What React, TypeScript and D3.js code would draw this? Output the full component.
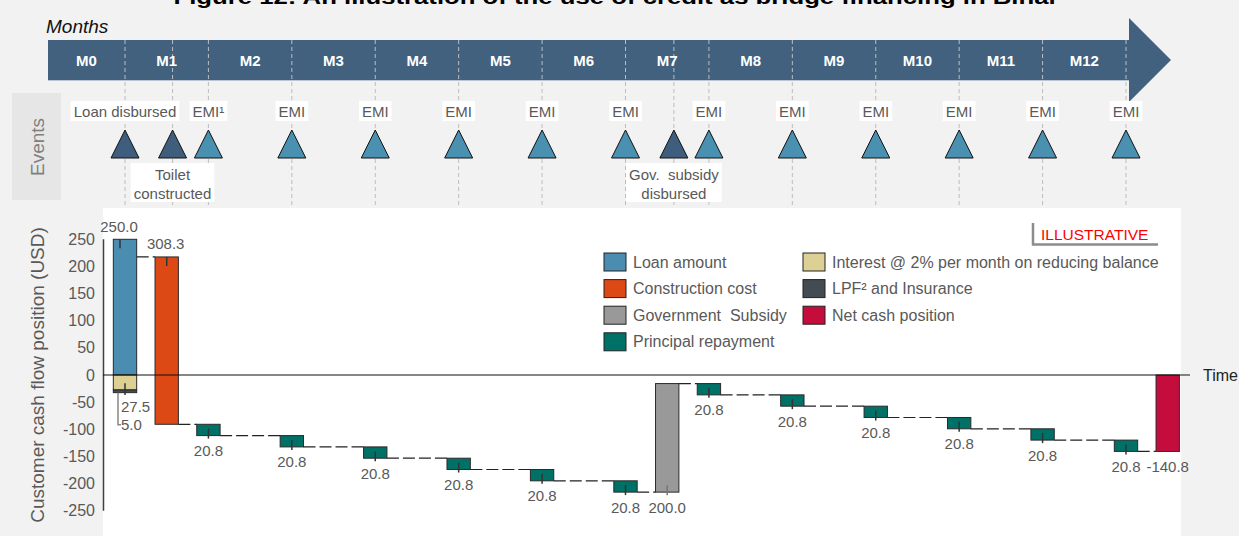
import * as d3 from "d3";

// ---- data ----
const title = "Figure 12: An illustration of the use of credit as bridge financing in Bihar";
const months = ["M0", "M1", "M2", "M3", "M4", "M5", "M6", "M7", "M8", "M9", "M10", "M11", "M12"];

const eventNames = [
  "Loan disbursed", "Toilet constructed", "EMI¹", "EMI", "EMI", "EMI", "EMI", "EMI",
  "Gov. subsidy disbursed", "EMI", "EMI", "EMI", "EMI", "EMI", "EMI",
];
const eventMonths = [0.5, 1.07, 1.5, 2.5, 3.5, 4.5, 5.5, 6.5, 7.08, 7.5, 8.5, 9.5, 10.5, 11.5, 12.5];
const eventKinds = [
  "milestone", "milestone", "emi", "emi", "emi", "emi", "emi", "emi",
  "milestone", "emi", "emi", "emi", "emi", "emi", "emi",
];
const eventLabelLines: Record<string, string[]> = {
  "Toilet constructed": ["Toilet", "constructed"],
  "Gov. subsidy disbursed": ["Gov.  subsidy", "disbursed"],
};

const stepTypes = [
  "loan", "interest", "lpf", "construction",
  "principal", "principal", "principal", "principal", "principal", "principal",
  "subsidy",
  "principal", "principal", "principal", "principal", "principal", "principal",
  "net",
];
const stepMonths = [0.5, 0.5, 0.5, 1.0, 1.5, 2.5, 3.5, 4.5, 5.5, 6.5, 7.0, 7.5, 8.5, 9.5, 10.5, 11.5, 12.5, 13.0];
const stepValues = [
  250.0, -27.5, -5.0, -308.3,
  -20.83, -20.83, -20.83, -20.83, -20.83, -20.83,
  200.0,
  -20.83, -20.83, -20.83, -20.83, -20.83, -20.83,
  -140.8,
];
const yTicks = [250, 200, 150, 100, 50, 0, -50, -100, -150, -200, -250];

const legendCol1 = ["loan", "construction", "subsidy", "principal"];
const legendCol2 = ["interest", "lpf", "net"];
const legendNames: Record<string, string> = {
  loan: "Loan amount",
  construction: "Construction cost",
  subsidy: "Government  Subsidy",
  principal: "Principal repayment",
  interest: "Interest @ 2% per month on reducing balance",
  lpf: "LPF² and Insurance",
  net: "Net cash position",
};
const colors: Record<string, string> = {
  loan: "#4a8db0",
  construction: "#dc4914",
  subsidy: "#999999",
  principal: "#007166",
  interest: "#dcd095",
  lpf: "#434c52",
  net: "#c40d3c",
};

const FONT = "'Liberation Sans', Arial, sans-serif";
const GREY = "#595959";

let ctx: CanvasRenderingContext2D | null = null;
function textWidth(t: string, size: number) {
  if (!ctx) ctx = document.createElement("canvas").getContext("2d");
  if (!ctx) return t.length * size * 0.5;
  ctx.font = `${size}px ${FONT}`;
  return ctx.measureText(t).width;
}

// d3.format uses a unicode minus; the chart uses a plain hyphen
const fmt1 = d3.format(".1f");
const fmt = (v: number) => fmt1(v).replace("\u2212", "-");

export default function App() {
  const W = 1239;
  const H = 536;

  const x = d3.scaleLinear().domain([0.5, 12.5]).range([125, 1126]);
  const y = d3.scaleLinear().domain([-250, 250]).range([510.7, 239.3]);
  const step = x(1) - x(0);
  const bw = step * 0.28;

  const arrowLeft = 48;
  const arrowRight = x(12.5) + 3;
  const arrowTop = 40;
  const arrowBottom = 80;

  // waterfall geometry
  let run = 0;
  let negStack = 0;
  const bars = stepTypes.map((t, i) => {
    const v = stepValues[i];
    let a: number, b: number;
    if (t === "interest" || t === "lpf") {
      a = negStack;
      b = negStack + v;
      negStack = b;
      run += v;
    } else if (t === "net") {
      a = 0;
      b = v;
    } else {
      a = run;
      b = run + v;
      run = b;
    }
    return { type: t, month: stepMonths[i], from: a, to: b, value: v, after: run };
  });

  const columns = d3.groups(bars, (d) => d.month);
  const connectors = columns.slice(1).map(([m, _], i) => {
    const prev = columns[i];
    const last = prev[1][prev[1].length - 1];
    return { x1: x(prev[0]) + bw / 2, x2: x(m) - bw / 2, level: last.after };
  });

  return (
    <svg
      width={W}
      height={H}
      style={{ position: "absolute", left: 0, top: 0, background: "#f2f2f2", fontFamily: FONT }}
    >
      <rect x={0} y={0} width={W} height={H} fill="#f2f2f2" />

      {/* title (clipped at top, as in the source page) */}
      <text x={616} y={4} textAnchor="middle" fontSize={21} fontWeight="bold" fill="#000"
        textLength={885} lengthAdjust="spacingAndGlyphs">
        {title}
      </text>

      <text x={46} y={33} fontSize={19} fontStyle="italic" fill="#111">Months</text>

      {/* arrow */}
      <path
        d={`M${arrowLeft},${arrowTop} H${arrowRight} V18 L1171,60 L${arrowRight},102 V${arrowBottom} H${arrowLeft} Z`}
        fill="#41617e"
      />
      <line x1={arrowLeft} x2={arrowRight} y1={arrowBottom + 0.5} y2={arrowBottom + 0.5} stroke="#b9c5d0" />

      {/* events panel */}
      <rect x={12} y={93} width={49} height={107} fill="#e6e6e6" />
      <text transform="translate(37,147) rotate(-90)" textAnchor="middle" dominantBaseline="central"
        fontSize={19} fill="#7f7f7f">Events</text>

      {/* dashed guide lines */}
      {eventMonths.map((m, i) => (
        <line key={"g" + i} x1={x(m)} x2={x(m)} y1={arrowTop} y2={208}
          stroke="#bdbdbd" strokeDasharray="4,3" />
      ))}

      {months.map((m, i) => {
        const a = Math.max(arrowLeft, x(i - 0.5));
        const b = x(i + 0.5);
        return (
          <text key={m} x={(a + b) / 2} y={60} textAnchor="middle" dominantBaseline="central"
            fontSize={15} fontWeight="bold" fill="#fff">{m}</text>
        );
      })}

      {/* events */}
      {eventNames.map((name, i) => {
        const cx = x(eventMonths[i]);
        const kind = eventKinds[i];
        const lines = eventLabelLines[name] || [name];
        const below = lines.length > 1;
        const wMax = d3.max(lines, (l) => textWidth(l, 15)) || 0;
        const boxW = wMax + 6;
        const boxY = below ? 163 : 101;
        const boxH = below ? 39 : 20;
        return (
          <g key={"e" + i}>
            <rect x={cx - boxW / 2} y={boxY} width={boxW} height={boxH} fill="#fff" />
            {lines.map((l, j) => (
              <text key={j} x={cx} y={below ? 174 + j * 19 : 111} textAnchor="middle"
                dominantBaseline="central" fontSize={15} fill={GREY} style={{ whiteSpace: "pre" }}>{l}</text>
            ))}
            <path d={`M${cx},130 L${cx + 14},158 L${cx - 14},158 Z`}
              fill={kind === "milestone" ? "#3f5e7d" : "#4a90b0"} stroke="#111" strokeWidth={1} />
          </g>
        );
      })}

      {/* chart panel */}
      <rect x={103} y={208} width={1078} height={H - 208} fill="#fff" />

      {/* y axis */}
      <line x1={103.5} x2={103.5} y1={y(250)} y2={y(-250)} stroke="#404040" strokeWidth={1.5} />
      {yTicks.map((t) => (
        <text key={t} x={95} y={y(t)} textAnchor="end" dominantBaseline="central" fontSize={16} fill={GREY}>{t}</text>
      ))}
      <text transform="translate(37,375) rotate(-90)" textAnchor="middle" dominantBaseline="central"
        fontSize={19} fill={GREY}>Customer cash flow position (USD)</text>

      {/* connectors */}
      {connectors.map((c, i) => (
        <line key={"c" + i} x1={c.x1} x2={c.x2} y1={y(c.level)} y2={y(c.level)}
          stroke="#222" strokeWidth={1.2} strokeDasharray="12,4" />
      ))}

      {/* bars */}
      {bars.map((b, i) => {
        const cx = x(b.month);
        const top = y(Math.max(b.from, b.to));
        const bot = y(Math.min(b.from, b.to));
        return (
          <rect key={"b" + i} x={cx - bw / 2} y={top} width={bw} height={Math.max(1, bot - top)}
            fill={colors[b.type]} stroke="#2a2a2a" strokeWidth={1} />
        );
      })}

      {/* zero line */}
      <line x1={103} x2={1190} y1={y(0)} y2={y(0)} stroke="#111" strokeWidth={1.2} />
      <text x={1203} y={y(0)} dominantBaseline="central" fontSize={16} fill="#222">Time</text>

      {/* value labels */}
      {bars.map((b, i) => {
        const cx = x(b.month);
        const top = y(Math.max(b.from, b.to));
        const bot = y(Math.min(b.from, b.to));
        const tickColor = b.type === "subsidy" ? "#777" : "#333";
        if (b.type === "loan" || b.type === "construction") {
          const dx = b.type === "loan" ? -5 : 0;
          return (
            <g key={"l" + i}>
              <line x1={cx + dx} x2={cx + dx} y1={top} y2={top + 9} stroke={tickColor} strokeWidth={1.5} />
              <text x={cx + dx - 1} y={top - 13} textAnchor="middle" dominantBaseline="central" fontSize={15}
                fill={GREY}>{fmt(Math.abs(b.value))}</text>
            </g>
          );
        }
        if (b.type === "interest") {
          return (
            <g key={"l" + i}>
              <line x1={cx} x2={cx} y1={y(-15)} y2={bot + 5} stroke="#333" strokeWidth={1.5} />
              <text x={cx - 4} y={bot + 17} dominantBaseline="central" fontSize={15} fill={GREY}>
                {fmt(Math.abs(b.value))}
              </text>
            </g>
          );
        }
        if (b.type === "lpf") {
          return (
            <g key={"l" + i}>
              <path d={`M${cx - 7},${bot} V${bot + 32} H${cx - 4}`} fill="none" stroke="#888" strokeWidth={1.5} />
              <text x={cx - 4} y={bot + 32} dominantBaseline="central" fontSize={15} fill={GREY}>
                {fmt(Math.abs(b.value))}
              </text>
            </g>
          );
        }
        const label = b.type === "net" ? fmt(b.value) : fmt(Math.abs(b.value));
        return (
          <g key={"l" + i}>
            {b.type !== "net" && (
              <line x1={cx} x2={cx} y1={bot - 7} y2={bot + 3} stroke={tickColor} strokeWidth={1.5} />
            )}
            <text x={cx} y={bot + 15} textAnchor="middle" dominantBaseline="central" fontSize={15}
              fill={GREY}>{label}</text>
          </g>
        );
      })}

      {/* ILLUSTRATIVE stamp */}
      <path d="M1033,223 V244.5 H1158" fill="none" stroke="#8c8c8c" strokeWidth={2.5} />
      <text x={1041} y={234} dominantBaseline="central" fontSize={15.5} fill="#ff0000">ILLUSTRATIVE</text>

      {/* legend */}
      {[legendCol1, legendCol2].map((col, ci) =>
        col.map((k, ri) => {
          const lx = ci === 0 ? 604 : 803;
          const ly = 262 + ri * 26.6;
          return (
            <g key={k}>
              <rect x={lx} y={ly - 9} width={22} height={18} fill={colors[k]} stroke="#222" strokeWidth={1} />
              <text x={lx + 29} y={ly} dominantBaseline="central" fontSize={16} fill={GREY}
                style={{ whiteSpace: "pre" }}>{legendNames[k]}</text>
            </g>
          );
        })
      )}
    </svg>
  );
}
